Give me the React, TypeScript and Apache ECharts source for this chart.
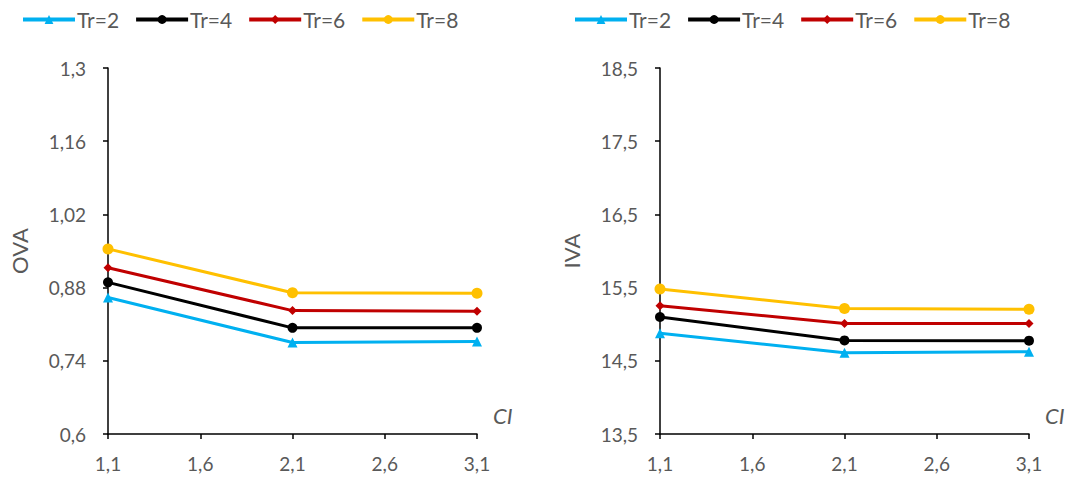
import React, { useEffect, useRef } from "react";
import * as echarts from "echarts";

const xValues = [1.1, 2.1, 3.1];
const seriesNames = ["Tr=2", "Tr=4", "Tr=6", "Tr=8"];
const seriesColors = ["#00B0F0", "#000000", "#C00000", "#FFC000"];
const seriesSymbols = ["triangle", "circle", "diamond", "circle"];
const seriesSymbolSizes = [10, 10, 9, 11];

const ovaTr2 = [0.861, 0.775, 0.777];
const ovaTr4 = [0.89, 0.803, 0.803];
const ovaTr6 = [0.918, 0.836, 0.835];
const ovaTr8 = [0.954, 0.87, 0.869];

const ivaTr2 = [14.876, 14.611, 14.625];
const ivaTr4 = [15.098, 14.778, 14.775];
const ivaTr6 = [15.253, 15.01, 15.008];
const ivaTr8 = [15.481, 15.214, 15.205];

const xTicks = [1.1, 1.6, 2.1, 2.6, 3.1];
const ovaTicks = [0.6, 0.74, 0.88, 1.02, 1.16, 1.3];
const ivaTicks = [13.5, 14.5, 15.5, 16.5, 17.5, 18.5];

const FONT = "Lato";
const TXT = "#595959";

const fmt = (v: number) => String(+Number(v).toFixed(2)).replace(".", ",");

export default function App() {
  const ref = useRef<HTMLDivElement>(null);
  useEffect(() => {
    if (!ref.current) return;
    const chart = echarts.init(ref.current, undefined, { renderer: "svg" });
    const ova = [ovaTr2, ovaTr4, ovaTr6, ovaTr8];
    const iva = [ivaTr2, ivaTr4, ivaTr6, ivaTr8];

    const xAxisBase = (gridIndex: number) => ({
      type: "value",
      gridIndex,
      min: 1.1,
      max: 3.1,
      name: "CI",
      nameLocation: "end",
      nameGap: 16,
      nameTextStyle: {
        fontFamily: FONT,
        fontStyle: "italic",
        fontSize: 22,
        color: TXT,
        align: "left",
        verticalAlign: "bottom",
        padding: [0, 0, 8, 0],
      },
      axisLine: { show: true, onZero: false, lineStyle: { color: "#000", width: 1.5 } },
      axisTick: { show: true, inside: false, length: 5, customValues: xTicks, lineStyle: { color: "#000", width: 1.5 } },
      axisLabel: { customValues: xTicks, formatter: fmt, margin: 20, fontFamily: FONT, fontSize: 19, color: TXT },
      splitLine: { show: false },
    });

    const yAxisBase = (gridIndex: number, name: string, ticks: number[]) => ({
      type: "value",
      gridIndex,
      min: ticks[0],
      max: ticks[ticks.length - 1],
      name,
      nameLocation: "middle",
      nameGap: 78,
      nameTextStyle: { fontFamily: FONT, fontSize: 22, color: TXT },
      axisLine: { show: true, onZero: false, lineStyle: { color: "#000", width: 1.5 } },
      axisTick: { show: true, inside: false, length: 5, customValues: ticks, lineStyle: { color: "#000", width: 1.5 } },
      axisLabel: { customValues: ticks, formatter: fmt, margin: 22, fontFamily: FONT, fontSize: 19, color: TXT },
      splitLine: { show: false },
    });

    const mkSeries = (data: number[][], axisIndex: number) =>
      data.map((vals, i) => ({
        type: "line",
        name: seriesNames[i],
        xAxisIndex: axisIndex,
        yAxisIndex: axisIndex,
        data: xValues.map((x, j) => [x, vals[j]]),
        symbol: seriesSymbols[i],
        symbolSize: seriesSymbolSizes[i],
        showSymbol: true,
        itemStyle: { color: seriesColors[i] },
        lineStyle: { color: seriesColors[i], width: 3 },
        z: 2 + i,
      }));

    const legendBase = (left: number) => ({
      left,
      top: 4,
      itemWidth: 52,
      itemHeight: 11,
      itemGap: 15,
      lineStyle: { width: 4 },
      textStyle: { fontFamily: FONT, fontSize: 21, color: TXT, padding: [0, 0, 0, -3] },
      data: seriesNames,
    });

    chart.setOption({
      animation: false,
      backgroundColor: "#fff",
      grid: [
        { left: 108, right: 595, top: 68, bottom: 50 },
        { left: 660, right: 43, top: 68, bottom: 50 },
      ],
      legend: [legendBase(16), legendBase(568)],
      xAxis: [xAxisBase(0), xAxisBase(1)],
      yAxis: [yAxisBase(0, "OVA", ovaTicks), yAxisBase(1, "IVA", ivaTicks)],
      series: [...mkSeries(ova, 0), ...mkSeries(iva, 1)],
    });
    return () => chart.dispose();
  }, []);
  return <div ref={ref} style={{ position: "fixed", left: 0, top: 0, width: 1072, height: 484 }} />;
}
